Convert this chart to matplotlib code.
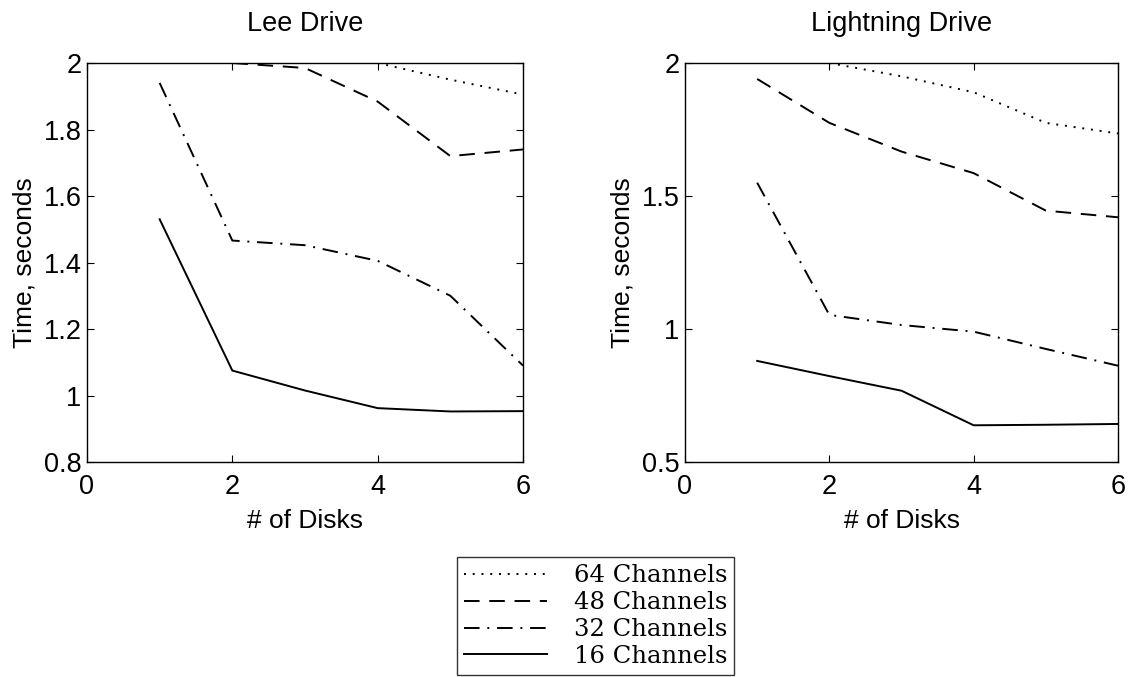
import matplotlib
matplotlib.use("Agg")
import matplotlib.pyplot as plt

# ---- data ----
disks = [1, 2, 3, 4, 5, 6]

lee_64_x = [4, 5, 6]
lee_64 = [2.0, 1.95, 1.905]
lee_48_x = [2, 3, 4, 5, 6]
lee_48 = [2.0, 1.985, 1.884, 1.72, 1.74]
lee_32 = [1.94, 1.466, 1.452, 1.405, 1.30, 1.09]
lee_16 = [1.53, 1.075, 1.015, 0.962, 0.952, 0.953]

lt_64_x = [2, 3, 4, 5, 6]
lt_64 = [2.0, 1.95, 1.89, 1.775, 1.735]
lt_48 = [1.94, 1.775, 1.667, 1.586, 1.445, 1.42]
lt_32 = [1.55, 1.053, 1.015, 0.99, 0.925, 0.862]
lt_16 = [0.88, 0.823, 0.768, 0.638, 0.64, 0.643]

xticks = [0, 2, 4, 6]
lee_yticks = [0.8, 1.0, 1.2, 1.4, 1.6, 1.8, 2.0]
lee_yticklabels = ["0.8", "1", "1.2", "1.4", "1.6", "1.8", "2"]
lt_yticks = [0.5, 1.0, 1.5, 2.0]
lt_yticklabels = ["0.5", "1", "1.5", "2"]

labels = ["64 Channels", "48 Channels", "32 Channels", "16 Channels"]

plt.rcParams['font.family'] = ['Liberation Sans', 'DejaVu Sans']

fig = plt.figure(figsize=(11.31, 6.77), dpi=100)
W, H = 1131, 677
ax1 = fig.add_axes([87 / W, 1 - 462 / H, 436 / W, 399 / H])
ax2 = fig.add_axes([685 / W, 1 - 462 / H, 433 / W, 399 / H])

lw = 1.4
styles = [
    dict(linestyle=(0, (1, 3.5)), color='black', lw=lw),
    dict(linestyle=(0, (8, 5)), color='black', lw=lw),
    dict(linestyle=(0, (8, 4, 1, 4)), color='black', lw=lw),
    dict(linestyle='-', color='black', lw=lw),
]

ax1.plot(lee_64_x, lee_64, **styles[0])
ax1.plot(lee_48_x, lee_48, **styles[1])
ax1.plot(disks, lee_32, **styles[2])
ax1.plot(disks, lee_16, **styles[3])

ax2.plot(lt_64_x, lt_64, **styles[0])
ax2.plot(disks, lt_48, **styles[1])
ax2.plot(disks, lt_32, **styles[2])
ax2.plot(disks, lt_16, **styles[3])

for ax, yt, ytl, ylim, title in [
    (ax1, lee_yticks, lee_yticklabels, (0.8, 2.0), "Lee Drive"),
    (ax2, lt_yticks, lt_yticklabels, (0.5, 2.0), "Lightning Drive"),
]:
    ax.set_xlim(0, 6)
    ax.set_ylim(*ylim)
    ax.set_xticks(xticks)
    ax.set_xticklabels([str(v) for v in xticks])
    ax.set_yticks(yt)
    ax.set_yticklabels(ytl)
    ax.tick_params(direction='in', top=True, right=True, length=5,
                   labelsize=19.5, width=0.8)
    ax.tick_params(axis='x', pad=9)
    ax.tick_params(axis='y', pad=4)
    for s in ax.spines.values():
        s.set_linewidth(1.0)
    ax.set_xlabel("# of Disks", fontsize=19, labelpad=6)
    ax.set_ylabel("Time, seconds", fontsize=19, labelpad=5)
    ax.set_title(title, fontsize=19.5, pad=23)

handles = [plt.Line2D([], [], **s) for s in styles]
leg = fig.legend(handles, labels, loc='upper left',
                 bbox_to_anchor=(457 / W, 1 - 557 / H),
                 prop={'family': 'DejaVu Serif', 'size': 17.5},
                 frameon=True, fancybox=False, edgecolor='black',
                 handlelength=3.4, handletextpad=1.1, labelspacing=0.16,
                 borderpad=0.3, borderaxespad=0)
leg.get_frame().set_linewidth(1.0)

fig.savefig("out.png", dpi=100)
